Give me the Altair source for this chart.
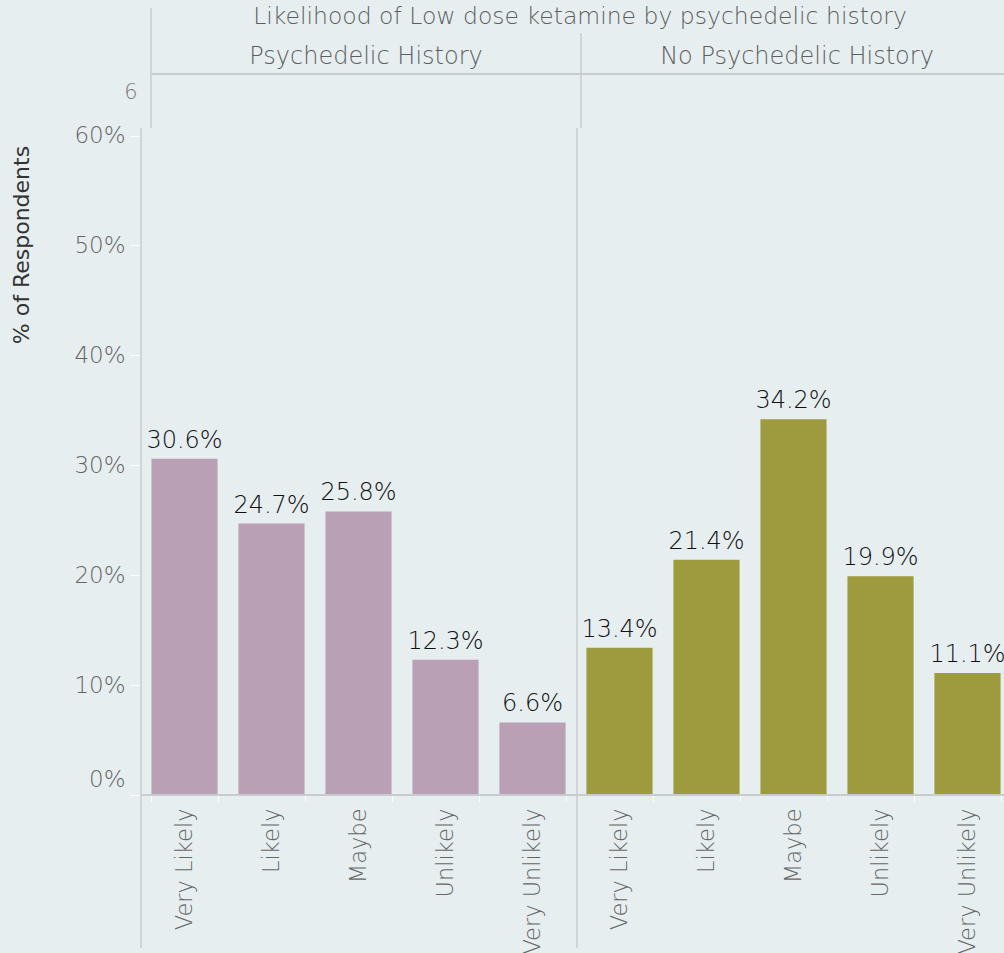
import altair as alt
import pandas as pd

# Survey responses: likelihood of trying low dose ketamine, split by psychedelic history
groups = ["Psychedelic History", "No Psychedelic History"]
categories = ["Very Likely", "Likely", "Maybe", "Unlikely", "Very Unlikely"]
psychedelic_pct = [30.6, 24.7, 25.8, 12.3, 6.6]
no_psychedelic_pct = [13.4, 21.4, 34.2, 19.9, 11.1]
group_colors = ["#b9a0b5", "#9e9a3e"]
y_ticks = [0, 10, 20, 30, 40, 50, 60]

rows = []
for g, vals in zip(groups, [psychedelic_pct, no_psychedelic_pct]):
    for c, v in zip(categories, vals):
        rows.append({"group": g, "category": c, "key": g + "|" + c, "pct": v})
df = pd.DataFrame(rows)
keys = list(df["key"])

FONT = "DejaVu Sans"
LIGHT = 300
BG = "#e6eef0"
LINE = "#c9cccd"
W, H = 863, 667

x_enc = alt.X(
    "key:N",
    sort=keys,
    scale=alt.Scale(domain=keys, range=[0, 870], paddingInner=0.24, paddingOuter=0.12),
    axis=alt.Axis(
        title=None,
        labelExpr="split(datum.label, '|')[1]",
        labelAngle=270,
        labelFont=FONT,
        labelFontSize=22.5,
        labelFontWeight=LIGHT,
        labelColor="#666666",
        labelPadding=7,
        domain=False,
        ticks=True,
        tickBand="extent",
        tickColor="#ffffff",
        tickSize=6,
        labelOverlap=False,
    ),
)
y_enc = alt.Y(
    "pct:Q",
    scale=alt.Scale(domain=[0, 60.69], nice=False, zero=True),
    axis=alt.Axis(
        title=None,
        values=y_ticks,
        labelExpr="datum.value + '%'",
        labelFont=FONT,
        labelFontSize=23,
        labelFontWeight=LIGHT,
        labelColor="#666666",
        labelPadding=5,
        labelOffset=alt.expr("datum.value == 0 ? -16 : 0"),
        domain=False,
        grid=False,
        tickColor="#ffffff",
        tickSize=9,
        offset=2,
    ),
)

base = alt.Chart(df)

bars = base.mark_bar(clip=True).encode(
    x=x_enc,
    y=y_enc,
    color=alt.Color("group:N", scale=alt.Scale(domain=groups, range=group_colors), legend=None),
)

labels = base.transform_calculate(
    label="format(datum.pct, '.1f') + '%'"
).mark_text(font=FONT, fontSize=24, fontWeight=LIGHT, color="#111111",
            baseline="alphabetic", dy=-11).encode(
    x=alt.X("key:N", sort=keys), y="pct:Q", text="label:N"
)

one = alt.Data(values=[{"k": 0}])


def rule(x, x2, y, y2, width=2, color=LINE):
    return alt.Chart(one).mark_rule(color=color, strokeWidth=width).encode(
        x=alt.value(x), x2=alt.value(x2), y=alt.value(y), y2=alt.value(y2)
    )


lines = [
    rule(0, 0, 0, 820, 1.5),        # left frame of the plot and label column
    rule(436, 436, 0, 820, 1.5),    # divider between the two panels
    rule(0, 863, 667, 667, 2),      # baseline
    rule(10, 10, -120, 0, 1.5),     # header left edge
    rule(440, 440, -95, 0, 1.5),    # header divider
    rule(10, 863, -54, -54, 2),     # header underline
]


def text(t, x, y, size, color, angle=0, weight=LIGHT):
    return alt.Chart(one).mark_text(
        text=t, font=FONT, fontSize=size, fontWeight=weight, color=color, angle=angle,
        align="center", baseline="middle",
    ).encode(x=alt.value(x), y=alt.value(y))


texts = [
    text("Likelihood of Low dose ketamine by psychedelic history", 439, -111, 23.5, "#5e5e5e"),
    text("Psychedelic History", 225, -71, 24, "#5e5e5e"),
    text("No Psychedelic History", 656, -71, 24, "#5e5e5e"),
    text("6", -10, -35, 21, "#777777"),
    text("% of Respondents", -119, 117, 22, "#333333", angle=270, weight=400),
]

chart = alt.layer(bars, labels, *lines, *texts).properties(
    width=W,
    height=H,
    background=BG,
    padding={"left": 141, "top": 128, "right": 0, "bottom": 158},
    autosize=alt.AutoSizeParams(type="none"),
).configure_view(stroke=None)

chart.save("out.html", embed_options={"renderer": "svg", "actions": False})
